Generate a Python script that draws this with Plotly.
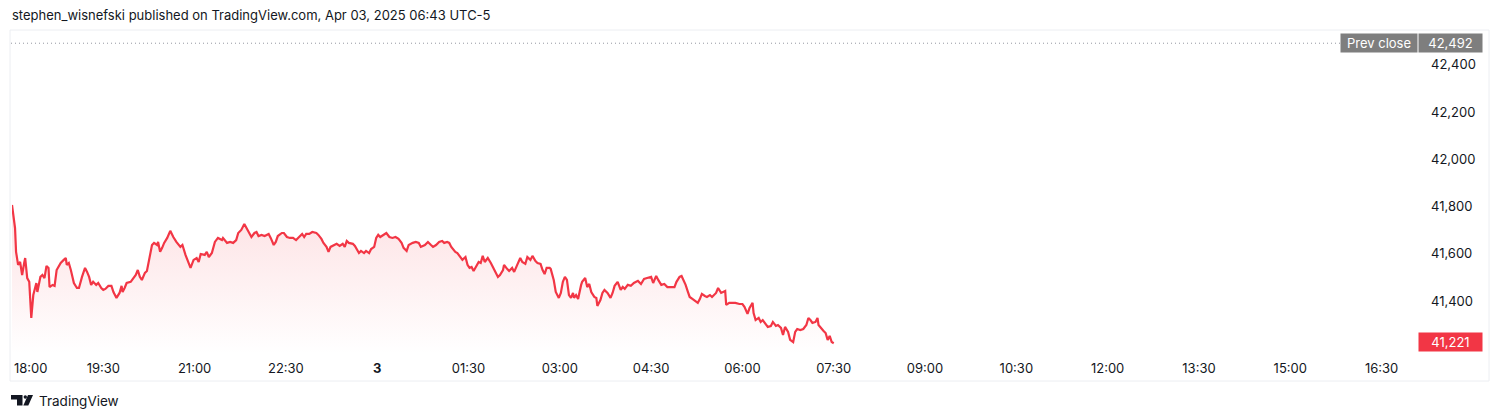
import pandas as pd
import plotly.graph_objects as go

# ---------------- data ----------------
minutes_after_open = [
    0, 3, 4, 6, 8, 10, 12, 13, 15, 17, 19, 21, 24, 25, 28, 30, 32, 34, 36, 37,
    40, 42, 44, 48, 51, 53, 54, 56, 58, 61, 64, 66, 69, 72, 74, 76, 78, 80, 83, 85,
    88, 90, 92, 95, 98, 100, 103, 106, 108, 109, 111, 113, 117, 120, 122, 124, 126, 128, 131, 133,
    135, 138, 140, 143, 144, 146, 148, 150, 153, 156, 159, 162, 166, 168, 171, 173, 176, 179, 182, 184,
    186, 190, 192, 194, 197, 200, 203, 207, 208, 212, 215, 218, 221, 223, 226, 229, 231, 233, 236, 239,
    241, 243, 246, 249, 253, 255, 258, 260, 262, 266, 268, 271, 274, 277, 280, 282, 285, 286, 288, 290,
    293, 296, 300, 302, 305, 307, 310, 312, 314, 317, 320, 323, 326, 328, 330, 332, 336, 338, 340, 342,
    344, 347, 349, 352, 354, 357, 359, 361, 363, 366, 369, 372, 375, 378, 381, 384, 386, 389, 391, 395,
    398, 401, 403, 407, 410, 413, 415, 418, 421, 424, 426, 429, 431, 433, 435, 437, 439, 442, 444, 447,
    449, 451, 453, 455, 458, 460, 462, 464, 466, 469, 472, 474, 476, 479, 481, 484, 485, 488, 490, 493,
    495, 498, 501, 503, 506, 508, 511, 513, 516, 518, 521, 523, 525, 527, 530, 531, 534, 536, 539, 541,
    543, 545, 547, 549, 551, 553, 554, 556, 558, 561, 562, 565, 567, 569, 571, 574, 576, 577, 580, 582,
    584, 587, 590, 592, 594, 597, 600, 602, 604, 607, 610, 613, 617, 620, 623, 626, 630, 632, 635, 637,
    640, 643, 646, 649, 653, 655, 658, 660, 662, 664, 666, 668, 671, 673, 676, 678, 680, 683, 685, 688,
    690, 694, 696, 699, 701, 703, 704, 707, 710, 713, 717, 720, 722, 725, 727, 730, 731, 733, 736, 738,
    740, 743, 745, 748, 750, 753, 755, 758, 760, 762, 765, 767, 770, 772, 774, 777, 780, 783, 785, 787,
    789, 792, 794, 795, 797, 800, 802, 804, 806, 808, 810,
]
prices = [
    41807, 41709, 41608, 41553, 41565, 41510, 41561, 41582, 41497, 41481, 41328, 41425, 41476, 41438, 41502, 41510, 41497, 41548, 41540, 41459,
    41468, 41464, 41531, 41561, 41574, 41582, 41553, 41561, 41531, 41476, 41455, 41455, 41502, 41540, 41523, 41502, 41468, 41481, 41468, 41476,
    41455, 41447, 41451, 41464, 41464, 41438, 41413, 41434, 41464, 41438, 41455, 41476, 41481, 41497, 41510, 41531, 41502, 41489, 41519, 41527,
    41574, 41637, 41646, 41637, 41650, 41608, 41625, 41646, 41667, 41697, 41671, 41650, 41629, 41637, 41595, 41574, 41540, 41574, 41582, 41565,
    41599, 41595, 41608, 41586, 41603, 41650, 41667, 41658, 41667, 41646, 41650, 41646, 41658, 41688, 41701, 41726, 41709, 41692, 41671, 41688,
    41692, 41675, 41680, 41675, 41684, 41667, 41637, 41650, 41675, 41688, 41688, 41671, 41667, 41667, 41658, 41667, 41680, 41684, 41671, 41684,
    41684, 41692, 41688, 41680, 41663, 41646, 41629, 41608, 41629, 41637, 41642, 41633, 41642, 41629, 41654, 41646, 41642, 41633, 41616, 41603,
    41612, 41603, 41612, 41603, 41620, 41629, 41667, 41680, 41671, 41680, 41688, 41671, 41667, 41671, 41663, 41646, 41625, 41612, 41637, 41646,
    41650, 41646, 41629, 41637, 41650, 41637, 41629, 41637, 41650, 41654, 41646, 41650, 41646, 41629, 41616, 41608, 41603, 41582, 41574, 41586,
    41553, 41540, 41544, 41527, 41553, 41565, 41561, 41591, 41565, 41582, 41561, 41540, 41527, 41502, 41510, 41531, 41553, 41536, 41527, 41540,
    41523, 41553, 41582, 41565, 41557, 41586, 41574, 41591, 41569, 41561, 41557, 41531, 41514, 41540, 41540, 41536, 41489, 41438, 41413, 41434,
    41481, 41502, 41489, 41425, 41413, 41434, 41413, 41425, 41408, 41468, 41481, 41497, 41459, 41472, 41438, 41417, 41413, 41379, 41404, 41434,
    41447, 41434, 41413, 41434, 41464, 41481, 41447, 41459, 41451, 41468, 41464, 41476, 41485, 41472, 41493, 41497, 41502, 41476, 41506, 41489,
    41468, 41472, 41459, 41459, 41459, 41481, 41502, 41506, 41489, 41468, 41442, 41417, 41408, 41400, 41392, 41408, 41430, 41421, 41417, 41425,
    41417, 41434, 41455, 41434, 41438, 41442, 41383, 41392, 41392, 41392, 41387, 41387, 41375, 41345, 41370, 41392, 41349, 41319, 41328, 41311,
    41319, 41298, 41290, 41294, 41311, 41294, 41298, 41286, 41256, 41290, 41269, 41235, 41226, 41269, 41281, 41277, 41281, 41298, 41328, 41319,
    41307, 41311, 41328, 41298, 41286, 41273, 41264, 41235, 41252, 41226, 41221,
]
prev_close = 42492
last_price = 41221
y_ticks = [41400, 41600, 41800, 42000, 42200, 42400]
x_tick_labels = ["19:30", "21:00", "22:30", "<b>3</b>", "01:30", "03:00", "04:30",
                 "06:00", "07:30", "09:00", "10:30", "12:00", "13:30", "15:00", "16:30"]
session_start = "2025-04-02 18:00"
session_end = "2025-04-03 17:00"
header = "stephen_wisnefski published on TradingView.com, Apr 03, 2025 06:43 UTC-5"

# ---------------- layout helpers (page pixel coords -> paper) ----------------
OFF = 8                      # default page body margin
W, H = 1500 - OFF, 420 - OFF
ML, MR, MT, MB = 12 - OFF, 88, 30 - OFF, 65
PW, PH = W - ML - MR, H - MT - MB


def px(x):
    return (x - OFF - ML) / PW


def py(y):
    return (H - MB - (y - OFF)) / PH


start = pd.Timestamp(session_start)
times = [start + pd.Timedelta(minutes=m) for m in minutes_after_open]
tick_times = [start + pd.Timedelta(minutes=90 * (i + 1)) for i in range(len(x_tick_labels))]

RED = "#f23645"
GRAY = "#7e7e7e"
TXT = "#131722"
FONT = "Inter, Roboto, sans-serif"
y_lo, y_hi = 41171, 42548

fig = go.Figure()
fig.add_trace(go.Scatter(
    x=times, y=prices, mode="lines",
    line=dict(color=RED, width=2.2),
    fill="tozeroy",
    fillgradient=dict(type="vertical", start=y_lo, stop=max(prices),
                      colorscale=[[0, "rgba(242,54,69,0)"], [1, "rgba(242,54,69,0.15)"]]),
    hoverinfo="skip", showlegend=False,
))

shapes = []
# chart frame
shapes.append(dict(type="rect", xref="paper", yref="paper",
                   x0=px(10), x1=px(1489), y0=py(381), y1=py(30),
                   line=dict(color="#eceef2", width=1), fillcolor="rgba(0,0,0,0)", layer="below"))
# prev close dotted line
shapes.append(dict(type="line", xref="paper", yref="y", x0=px(11), x1=px(1340),
                   y0=prev_close, y1=prev_close, line=dict(color="#9598a1", width=1, dash="1px,3px")))


# TradingView logo
def poly(points):
    return "M " + " L ".join(f"{px(a)},{py(b)}" for a, b in points) + " Z"


shapes.append(dict(type="path", xref="paper", yref="paper", fillcolor=TXT, line=dict(width=0),
                   path=poly([(11, 395), (22.5, 395), (22.5, 405.5), (17, 405.5), (17, 399.5), (11, 399.5)])))
shapes.append(dict(type="circle", xref="paper", yref="paper", fillcolor=TXT, line=dict(width=0),
                   x0=px(23.6), x1=px(27.0), y0=py(398.7), y1=py(395.3)))
shapes.append(dict(type="path", xref="paper", yref="paper", fillcolor=TXT, line=dict(width=0),
                   path=poly([(28, 395), (33, 395), (28.3, 405.5), (23.3, 405.5)])))

annotations = [
    dict(text=header, xref="paper", yref="paper", x=px(11), y=py(15), xanchor="left", yanchor="middle",
         showarrow=False, borderpad=0, font=dict(family=FONT, size=13, color=TXT)),
    dict(text="TradingView", xref="paper", yref="paper", x=px(37), y=py(401), xanchor="left", yanchor="middle",
         showarrow=False, font=dict(family=FONT, size=13.5, color=TXT)),
    dict(text="18:00", xref="paper", yref="paper", x=px(12), y=py(368), xanchor="left", yanchor="middle",
         showarrow=False, font=dict(family=FONT, size=13, color=TXT)),
    dict(text="Prev close", xref="paper", yref="paper", x=px(1379), y=py(43.5), xanchor="center", yanchor="middle",
         showarrow=False, font=dict(family=FONT, size=13, color="white"), bgcolor=GRAY,
         width=72, height=14, borderpad=2),
    dict(text=f"{prev_close:,}", xref="paper", yref="paper", x=px(1450.5), y=py(43.5), xanchor="center", yanchor="middle",
         showarrow=False, font=dict(family=FONT, size=13, color="white"), bgcolor=GRAY,
         width=59, height=14, borderpad=2),
    dict(text=f"{last_price:,}", xref="paper", yref="paper", x=px(1450), y=py(341.5), xanchor="center", yanchor="middle",
         showarrow=False, font=dict(family=FONT, size=13, color="white"), bgcolor=RED,
         width=59, height=14, borderpad=2),
]

fig.update_layout(
    width=W, height=H,
    margin=dict(l=ML, r=MR, t=MT, b=MB),
    paper_bgcolor="white", plot_bgcolor="white",
    font=dict(family=FONT, size=13, color=TXT),
    shapes=shapes, annotations=annotations,
    xaxis=dict(range=[start, pd.Timestamp(session_end)], tickvals=tick_times, ticktext=x_tick_labels,
               showgrid=False, zeroline=False, showline=False, ticks="", tickfont=dict(size=13, color=TXT),
               ticklabelstandoff=4, fixedrange=True),
    yaxis=dict(range=[y_lo, y_hi], side="right", tickvals=y_ticks, tickformat=",d",
               showgrid=False, zeroline=False, showline=False, ticks="", tickfont=dict(size=13, color=TXT),
               ticklabelstandoff=18, fixedrange=True),
    showlegend=False,
)

fig.write_html("out.html")
